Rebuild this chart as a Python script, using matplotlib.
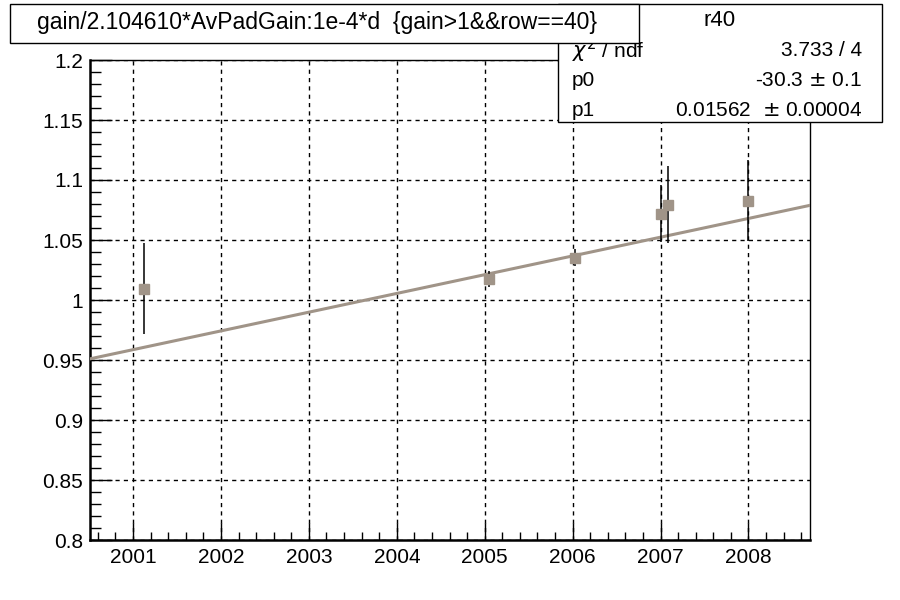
import numpy as np
import matplotlib
matplotlib.use('Agg')
import matplotlib.pyplot as plt
from matplotlib.ticker import MultipleLocator
from matplotlib.patches import Rectangle

plt.rcParams['font.family'] = ['Liberation Sans', 'DejaVu Sans']

# data
years = [2001.125, 2005.045, 2006.03, 2007.01, 2007.09, 2007.99]
gain = [1.0094, 1.0177, 1.0352, 1.0720, 1.0795, 1.0828]
gain_err = [0.038, 0.0065, 0.007, 0.024, 0.032, 0.034]

# fit parameters (pol1)
p0 = -30.297
p1 = 0.01562

title = 'gain/2.104610*AvPadGain:1e-4*d  {gain>1&&row==40}'
stat_names = ['$\\chi^2$ / ndf', 'p0', 'p1']
stat_vals = ['3.733 / 4', '-30.3 $\\pm$ 0.1', '0.01562  $\\pm$ 0.00004']

col = '#a09488'
xmin, xmax = 2000.51, 2008.70

fig = plt.figure(figsize=(9, 6), dpi=100)
ax = fig.add_axes([0.1, 0.1, 0.8, 0.8])
ax.set_xlim(xmin, xmax)
ax.set_ylim(0.8, 1.2)

# fit line
xf = np.array([xmin, xmax])
ax.plot(xf, p0 + p1 * xf, color=col, lw=2.2, zorder=3)

ax.errorbar(years, gain, yerr=gain_err, fmt='none', ecolor='black', elinewidth=1.1, capsize=0, zorder=4)
ax.plot(years, gain, 's', color=col, ms=6.5, mec=col, zorder=5)

ax.xaxis.set_major_locator(MultipleLocator(1))
ax.xaxis.set_minor_locator(MultipleLocator(0.2))
ax.yaxis.set_major_locator(MultipleLocator(0.05))
ax.yaxis.set_minor_locator(MultipleLocator(0.01))
ax.xaxis.set_major_formatter(plt.FuncFormatter(lambda v, p: '%d' % round(v)))
ax.yaxis.set_major_formatter(plt.FuncFormatter(lambda v, p: ('%.2f' % v).rstrip('0').rstrip('.')))

ax.tick_params(axis='x', which='major', direction='in', length=12, width=1, labelsize=15, pad=6)
ax.tick_params(axis='x', which='minor', direction='in', length=6, width=1)
ax.tick_params(axis='y', which='major', direction='in', length=16, width=1, labelsize=15, pad=5)
ax.tick_params(axis='y', which='minor', direction='in', length=8, width=1)

ax.grid(True, which='major', color='black', ls=(0, (3, 3)), lw=1)
for side in ['top', 'right']:
    ax.spines[side].set_linewidth(1)
for side in ['bottom', 'left']:
    ax.spines[side].set_linewidth(1.8)

# stats box
sb = Rectangle((558 / 900, 1 - 122 / 600), (882 - 558) / 900, (122 - 4) / 600,
               transform=fig.transFigure, facecolor='white', edgecolor='black', lw=1, zorder=10)
fig.patches.append(sb)
fig.text(720 / 900, 1 - 21 / 600, 'r40', ha='center', va='center', fontsize=16, zorder=11)
for i, (n, v) in enumerate(zip(stat_names, stat_vals)):
    yy = 1 - (50 + 30 * i) / 600
    fig.text(572 / 900, yy, n, ha='left', va='center', fontsize=15, zorder=11)
    fig.text(862 / 900, yy, v, ha='right', va='center', fontsize=15, zorder=11)

# title box (drawn over the stats box)
tb = Rectangle((10 / 900, 1 - 42.5 / 600), (639 - 10) / 900, (42.5 - 4) / 600,
               transform=fig.transFigure, facecolor='white', edgecolor='black', lw=1, zorder=12)
fig.patches.append(tb)
fig.text(317 / 900, 1 - 23 / 600, title, ha='center', va='center', fontsize=16.5, zorder=13)

fig.savefig('out.png', dpi=100)
